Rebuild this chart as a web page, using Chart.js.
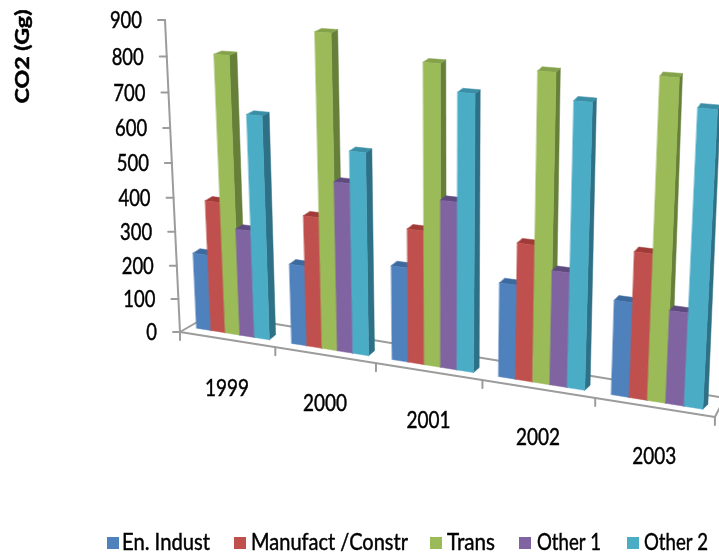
<!DOCTYPE html>
<html>
<head>
<meta charset="utf-8">
<style>
  html, body { margin: 0; padding: 0; background: #fff; }
  canvas { display: block; filter: blur(0.7px); }
</style>
<script src="https://cdn.jsdelivr.net/npm/chart.js@4"></script>
</head>
<body>
<canvas id="myChart" width="719" height="558"></canvas>
<script>
const years = ['1999', '2000', '2001', '2002', '2003'];
const enIndust = [225, 232, 267, 260, 255];
const manufact = [384, 376, 375, 374, 389];
const trans = [800, 881, 823, 824, 834];
const other1 = [313, 481, 464, 312, 248];
const other2 = [642, 570, 753, 757, 765];

const frontColors = ['#4f81bd', '#c0504d', '#9bbb59', '#8064a2', '#4bacc6'];
const sideColors = ['#35598a', '#8c3532', '#66803a', '#58437a', '#2e7086'];
const topColors = ['#3d6a9e', '#a03b38', '#84a24a', '#5f4a80', '#3a8ea6'];
const axisColor = '#9c9c9c';

// perspective of the floor and the value axis, u = 0..5 along the years, v = 0..1 up
function project(u, v) {
    let w = 1 - 0.02655 * u - 0.0545 * v;
    return {
        x: (180 + 88 * u - 24 * v) / w,
        y: (332 + 5.93 * u - 313.1 * v) / w
    };
}

// depth of a bar, wider on the left at the top and wider on the right at the bottom
function depthAt(u, v) {
    let t = u / 5;
    let dxBottom = 6.5 + (5 - 6.5) * t;
    let dxTop = 8.5 + (2.5 - 8.5) * t;
    let dyTop = -3 + (-4.5 + 3) * t;
    return { x: dxBottom + (dxTop - dxBottom) * v, y: -5 + (dyTop + 5) * v };
}

function poly(ctx, points, color) {
    ctx.beginPath();
    points.forEach((p, i) => i ? ctx.lineTo(p.x, p.y) : ctx.moveTo(p.x, p.y));
    ctx.closePath();
    ctx.fillStyle = color;
    ctx.strokeStyle = color;
    ctx.lineWidth = 0.5;
    ctx.fill();
    ctx.stroke();
}

function line(ctx, a, b) {
    ctx.beginPath();
    ctx.moveTo(a.x, a.y);
    ctx.lineTo(b.x, b.y);
    ctx.stroke();
}

// squeezes or stretches the text so it takes the width it has in the picture
function fitText(ctx, text, cx, cy, width, font, angle) {
    ctx.save();
    ctx.font = font;
    ctx.fillStyle = '#000';
    ctx.strokeStyle = '#000';
    ctx.lineWidth = 0.45;
    ctx.textAlign = 'center';
    ctx.textBaseline = 'middle';
    ctx.translate(cx, cy);
    if (angle) ctx.rotate(angle);
    ctx.scale(width / ctx.measureText(text).width, 1);
    ctx.fillText(text, 0, 0);
    ctx.strokeText(text, 0, 0);
    ctx.restore();
}

const perspectivePlugin = {
    id: 'perspective',
    beforeDatasetsDraw(chart) {
        let ctx = chart.ctx;
        let xScale = chart.scales.x;
        let yScale = chart.scales.y;
        let toU = px => (px - xScale.left) / xScale.width * years.length;
        let toV = py => (yScale.bottom - py) / yScale.height;

        ctx.save();
        ctx.lineCap = 'round';
        ctx.strokeStyle = axisColor;
        ctx.lineWidth = 2;

        // floor
        let corner = project(0, 0);
        let end = project(5, 0);
        line(ctx, { x: corner.x + 32, y: corner.y - 18.5 }, { x: end.x + 10, y: end.y - 19 });
        line(ctx, corner, { x: corner.x + 32, y: corner.y - 18.5 });
        line(ctx, end, { x: end.x + 10, y: end.y - 19 });
        line(ctx, corner, end);
        for (let u = 0; u <= 5; u++) {
            let p = project(u, 0);
            line(ctx, p, { x: p.x, y: p.y + 8 });
        }

        // value axis
        line(ctx, project(0, 0), project(0, 1));
        yScale.ticks.forEach(tick => {
            let p = project(0, toV(yScale.getPixelForValue(tick.value)));
            ctx.strokeStyle = axisColor;
            ctx.lineWidth = 2;
            line(ctx, p, { x: p.x - 7, y: p.y });
            fitText(ctx, String(tick.value), p.x - 23 - tick.label.length * 5.35, p.y + 1,
                tick.label.length * 10.7, '23px Lato');
        });

        // bars
        years.forEach((year, i) => {
            chart.data.datasets.forEach((dataset, s) => {
                let bar = chart.getDatasetMeta(s).data[i];
                let uL = toU(bar.x - bar.width / 2);
                let uR = toU(bar.x + bar.width / 2);
                let vTop = toV(bar.y);
                let vBase = toV(bar.base);
                let front = [[uL, vBase], [uR, vBase], [uR, vTop], [uL, vTop]].map(c => {
                    let p = project(c[0], c[1]);
                    return { x: p.x + 6 - 0.8 * c[0], y: p.y - 5.5 };
                });
                let back = (p, u, v) => {
                    let d = depthAt(u, v);
                    return { x: p.x + d.x, y: p.y + d.y };
                };
                poly(ctx, [front[1], back(front[1], uR, vBase), back(front[2], uR, vTop), front[2]], sideColors[s]);
                poly(ctx, [front[3], front[2], back(front[2], uR, vTop), back(front[3], uL, vTop)], topColors[s]);
                poly(ctx, front, frontColors[s]);
            });

            // year label under the floor
            let p = project(i + 0.5, 0);
            fitText(ctx, year, p.x, p.y + 49, 44, '23px Lato');
        });

        // axis title
        fitText(ctx, 'CO2 (Gg)', 23, 56.5, 94, 'bold 18px Lato', -Math.PI / 2);

        // legend
        let legendBoxes = [107, 234, 430, 519, 627];
        let legendText = [[122, 210], [251, 408], [447, 495], [537, 601], [644, 708]];
        chart.data.datasets.forEach((dataset, s) => {
            ctx.fillStyle = frontColors[s];
            ctx.fillRect(legendBoxes[s], 537, 12, 12);
            fitText(ctx, dataset.label, (legendText[s][0] + legendText[s][1]) / 2, 543,
                legendText[s][1] - legendText[s][0], '23px Lato');
        });
        ctx.restore();

        return false;
    }
};

new Chart(document.getElementById('myChart').getContext('2d'), {
    type: 'bar',
    data: {
        labels: years,
        datasets: [
            { label: 'En. Indust', data: enIndust, backgroundColor: frontColors[0] },
            { label: 'Manufact /Constr', data: manufact, backgroundColor: frontColors[1] },
            { label: 'Trans', data: trans, backgroundColor: frontColors[2] },
            { label: 'Other 1', data: other1, backgroundColor: frontColors[3] },
            { label: 'Other 2', data: other2, backgroundColor: frontColors[4] }
        ]
    },
    options: {
        responsive: false,
        animation: false,
        categoryPercentage: 0.77,
        barPercentage: 1,
        scales: {
            x: { display: false },
            y: { display: false, min: 0, max: 900, ticks: { stepSize: 100 } }
        },
        plugins: { legend: { display: false }, tooltip: { enabled: false } }
    },
    plugins: [perspectivePlugin]
});
</script>
</body>
</html>
